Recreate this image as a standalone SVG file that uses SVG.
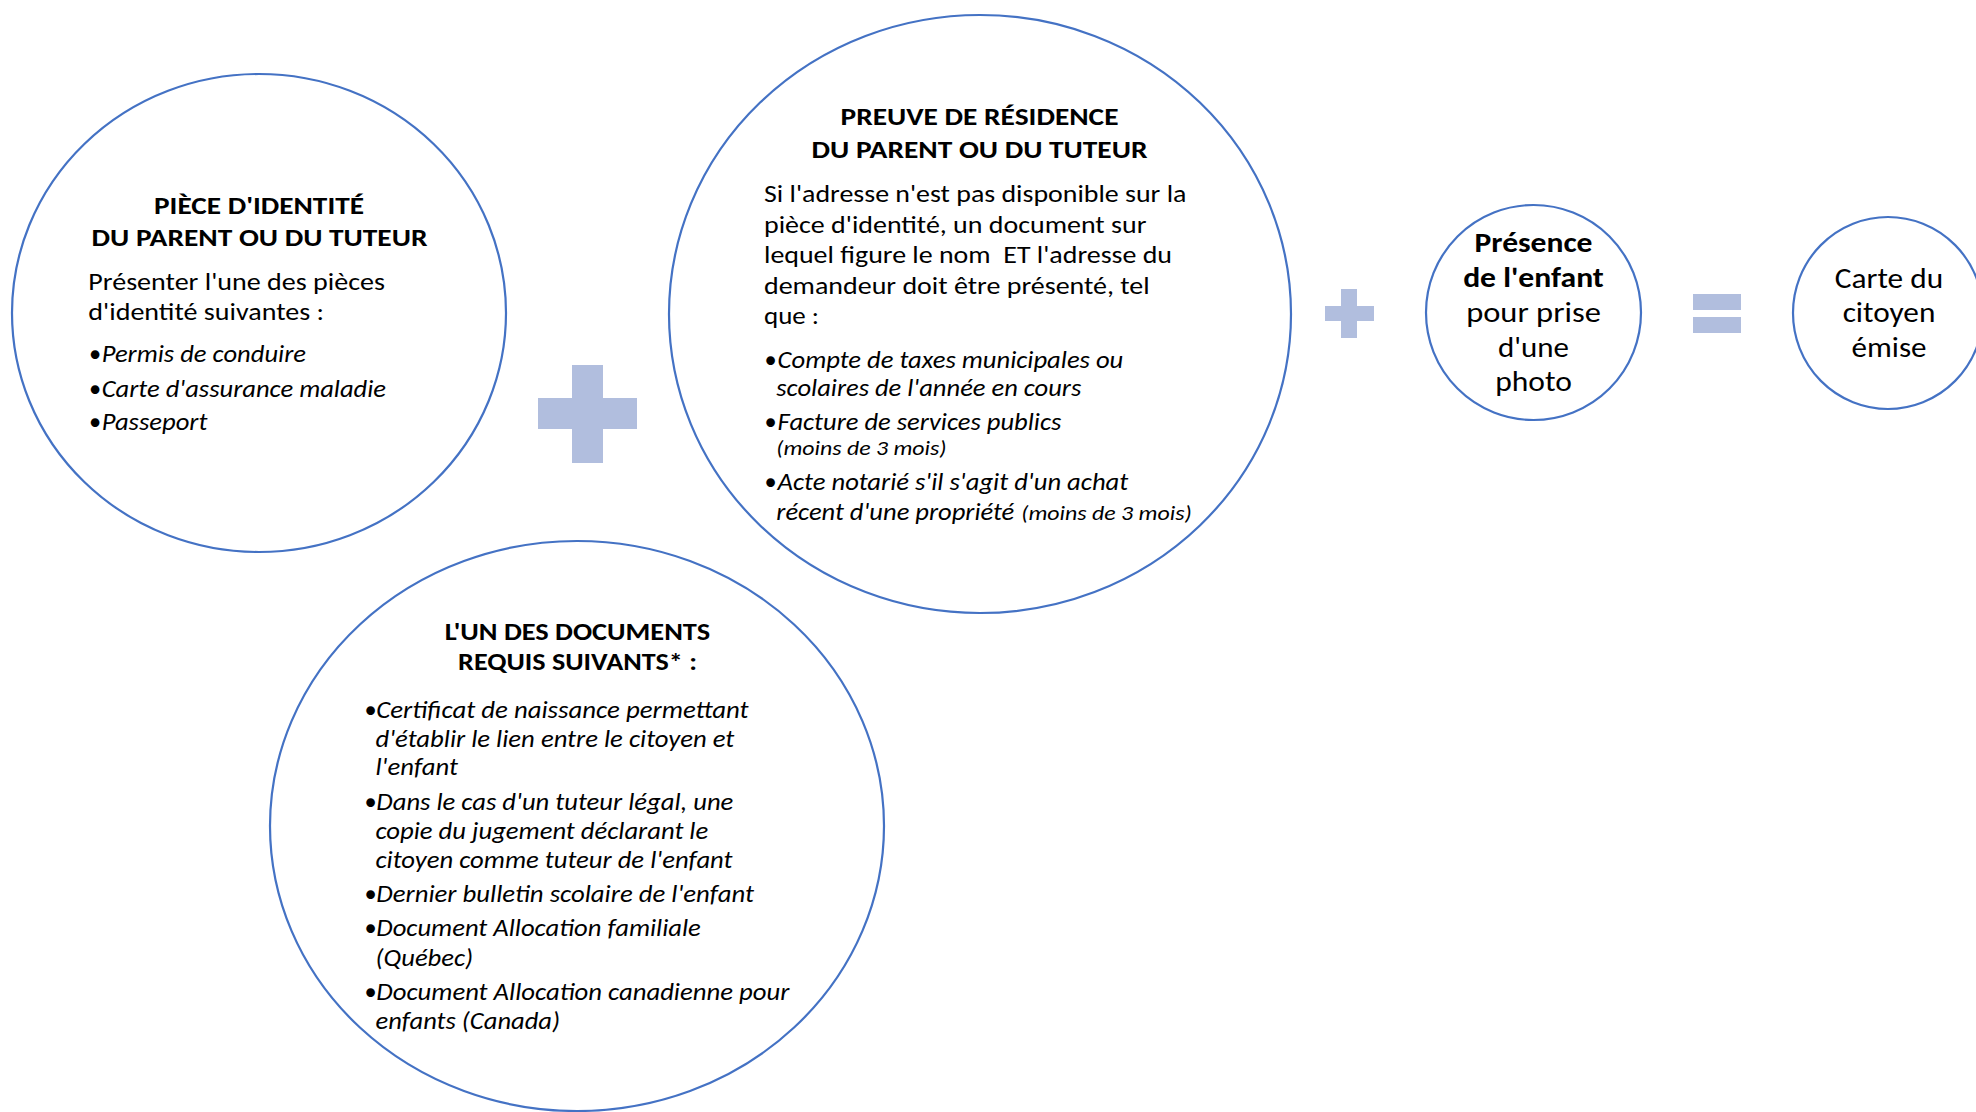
<svg xmlns="http://www.w3.org/2000/svg" width="1976" height="1112" viewBox="0 0 1976 1112">
<style>
.c{fill:#ffffff;stroke:#4472C4;stroke-width:2.2}
.op{fill:#B1BEDE}
text{font-family:Carlito,Lato,"Open Sans",sans-serif;fill:#000000}
.h{font-weight:bold;font-size:25px;text-anchor:middle}
.b{font-size:24.5px}
.i{font-size:24px;font-style:italic}
.s{font-size:19.5px;font-style:italic}
.m{font-size:28px;text-anchor:middle}
.mb{font-size:28px;font-weight:bold;text-anchor:middle}
</style>
<rect width="1976" height="1112" fill="#ffffff"/>
<g id="connectors">
  <g id="plus-1">
    <rect class="op" x="572" y="365" width="31" height="98"/>
    <rect class="op" x="538" y="398" width="99" height="31"/>
  </g>
  <g id="plus-2">
    <rect class="op" x="1341" y="289" width="16" height="49"/>
    <rect class="op" x="1325" y="306" width="49" height="15"/>
  </g>
  <g id="equals">
    <rect class="op" x="1693" y="294" width="48" height="16"/>
    <rect class="op" x="1693" y="317" width="48" height="16"/>
  </g>
</g>
<g id="node-identite">
  <ellipse class="c" cx="259" cy="313" rx="247" ry="239"/>
  <text class="h" x="259" y="214" textLength="210" lengthAdjust="spacingAndGlyphs">PIÈCE D'IDENTITÉ</text>
  <text class="h" x="259.5" y="245.5" textLength="336" lengthAdjust="spacingAndGlyphs">DU PARENT OU DU TUTEUR</text>
  <text class="b" x="88.3" y="290" textLength="296.7" lengthAdjust="spacingAndGlyphs">Présenter l'une des pièces</text>
  <text class="b" x="88.3" y="320" textLength="235.7" lengthAdjust="spacingAndGlyphs">d'identité suivantes :</text>
  <text class="b" x="89" y="361.5">•</text><text class="i" x="101.7" y="361.5" textLength="204.3" lengthAdjust="spacingAndGlyphs">Permis de conduire</text>
  <text class="b" x="89" y="396.5">•</text><text class="i" x="101.7" y="396.5" textLength="284.3" lengthAdjust="spacingAndGlyphs">Carte d'assurance maladie</text>
  <text class="b" x="89" y="430">•</text><text class="i" x="101.7" y="430" textLength="105.7" lengthAdjust="spacingAndGlyphs">Passeport</text>
</g>
<g id="node-residence">
  <ellipse class="c" cx="980" cy="314" rx="311" ry="299"/>
  <text class="h" x="979.5" y="125" textLength="278" lengthAdjust="spacingAndGlyphs">PREUVE DE RÉSIDENCE</text>
  <text class="h" x="979.5" y="157.5" textLength="336" lengthAdjust="spacingAndGlyphs">DU PARENT OU DU TUTEUR</text>
  <text class="b" x="764" y="201.5" textLength="422.4" lengthAdjust="spacingAndGlyphs">Si l'adresse n'est pas disponible sur la</text>
  <text class="b" x="764" y="232.5" textLength="382.4" lengthAdjust="spacingAndGlyphs">pièce d'identité, un document sur</text>
  <text class="b" x="764" y="263" xml:space="preserve" textLength="408" lengthAdjust="spacingAndGlyphs">lequel figure le nom  ET l'adresse du</text>
  <text class="b" x="764" y="293.5" textLength="385.7" lengthAdjust="spacingAndGlyphs">demandeur doit être présenté, tel</text>
  <text class="b" x="764" y="323.5" textLength="55" lengthAdjust="spacingAndGlyphs">que :</text>
  <text class="b" x="764.5" y="367.5">•</text><text class="i" x="777.6" y="367.5" textLength="345.7" lengthAdjust="spacingAndGlyphs">Compte de taxes municipales ou</text>
  <text class="i" x="776.3" y="395.5" textLength="305" lengthAdjust="spacingAndGlyphs">scolaires de l'année en cours</text>
  <text class="b" x="764.5" y="429.5">•</text><text class="i" x="777.6" y="429.5" textLength="283.7" lengthAdjust="spacingAndGlyphs">Facture de services publics</text>
  <text class="s" x="776.3" y="455" textLength="170.2" lengthAdjust="spacingAndGlyphs">(moins de 3 mois)</text>
  <text class="b" x="764.5" y="490">•</text><text class="i" x="777.6" y="490" textLength="350.6" lengthAdjust="spacingAndGlyphs">Acte notarié s'il s'agit d'un achat</text>
  <text class="i" x="776.3" y="520" textLength="238" lengthAdjust="spacingAndGlyphs">récent d'une propriété</text>
  <text class="s" x="1021.2" y="520" textLength="170.6" lengthAdjust="spacingAndGlyphs">(moins de 3 mois)</text>
</g>
<g id="node-documents">
  <ellipse class="c" cx="577" cy="826" rx="307" ry="285"/>
  <text class="h" x="577.5" y="640" textLength="265.3" lengthAdjust="spacingAndGlyphs">L'UN DES DOCUMENTS</text>
  <text class="h" x="577.5" y="670" textLength="238.8" lengthAdjust="spacingAndGlyphs">REQUIS SUIVANTS* :</text>
  <text class="b" x="364.5" y="718">•</text><text class="i" x="376.3" y="718" textLength="372.2" lengthAdjust="spacingAndGlyphs">Certificat de naissance permettant</text>
  <text class="i" x="375.5" y="747" textLength="358.8" lengthAdjust="spacingAndGlyphs">d'établir le lien entre le citoyen et</text>
  <text class="i" x="375.5" y="774.5" textLength="82.4" lengthAdjust="spacingAndGlyphs">l'enfant</text>
  <text class="b" x="364.5" y="810">•</text><text class="i" x="376.3" y="810" textLength="357" lengthAdjust="spacingAndGlyphs">Dans le cas d'un tuteur légal, une</text>
  <text class="i" x="375.5" y="839" textLength="332.7" lengthAdjust="spacingAndGlyphs">copie du jugement déclarant le</text>
  <text class="i" x="375.5" y="868" textLength="357" lengthAdjust="spacingAndGlyphs">citoyen comme tuteur de l'enfant</text>
  <text class="b" x="364.5" y="902">•</text><text class="i" x="376.3" y="902" textLength="377.6" lengthAdjust="spacingAndGlyphs">Dernier bulletin scolaire de l'enfant</text>
  <text class="b" x="364.5" y="936">•</text><text class="i" x="376.3" y="936" textLength="324.5" lengthAdjust="spacingAndGlyphs">Document Allocation familiale</text>
  <text class="i" x="375.5" y="966" textLength="97.6" lengthAdjust="spacingAndGlyphs">(Québec)</text>
  <text class="b" x="364.5" y="1000">•</text><text class="i" x="376.3" y="1000" textLength="413" lengthAdjust="spacingAndGlyphs">Document Allocation canadienne pour</text>
  <text class="i" x="375.5" y="1029" textLength="184.5" lengthAdjust="spacingAndGlyphs">enfants (Canada)</text>
</g>
<g id="node-enfant">
  <ellipse class="c" cx="1533.5" cy="312.5" rx="107.5" ry="107.5"/>
  <text class="mb" x="1533.5" y="251.5" textLength="118" lengthAdjust="spacingAndGlyphs">Présence</text>
  <text class="mb" x="1533.5" y="286.5" textLength="140.7" lengthAdjust="spacingAndGlyphs">de l'enfant</text>
  <text class="m" x="1533.5" y="321.5" textLength="134.7" lengthAdjust="spacingAndGlyphs">pour prise</text>
  <text class="m" x="1533.5" y="356.5" textLength="71" lengthAdjust="spacingAndGlyphs">d'une</text>
  <text class="m" x="1533.5" y="391" textLength="76.7" lengthAdjust="spacingAndGlyphs">photo</text>
</g>
<g id="node-carte">
  <ellipse class="c" cx="1888" cy="313" rx="95" ry="96"/>
  <text class="m" x="1889" y="288" textLength="108.3" lengthAdjust="spacingAndGlyphs">Carte du</text>
  <text class="m" x="1889" y="322" textLength="92.7" lengthAdjust="spacingAndGlyphs">citoyen</text>
  <text class="m" x="1889" y="357" textLength="75" lengthAdjust="spacingAndGlyphs">émise</text>
</g>
</svg>
